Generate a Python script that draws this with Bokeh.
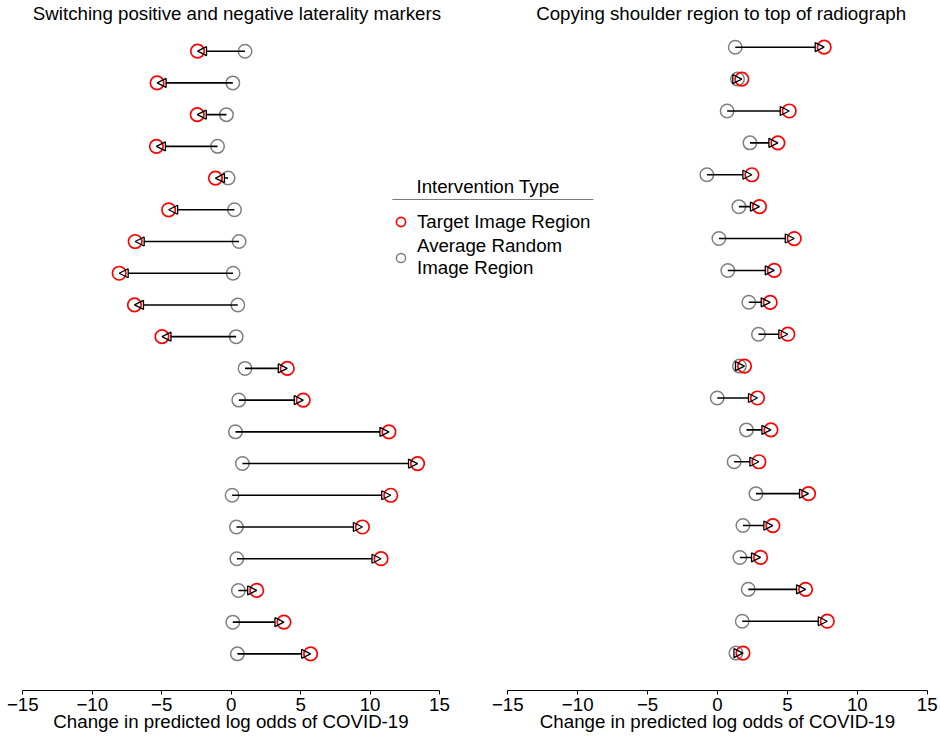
from bokeh.plotting import figure
from bokeh.models import (Range1d, LinearAxis, FixedTicker, CustomJSTickFormatter,
                          ColumnDataSource, Arrow, NormalHead, Label, Legend, LegendItem,
                          BoxAnnotation)
from bokeh.embed import file_html
from bokeh.resources import INLINE

# ---------------- data ----------------
rows = list(range(1, 21))

left_random = [1.0, 0.12, -0.34, -0.98, -0.22, 0.24, 0.57, 0.14, 0.48, 0.36,
               1.0, 0.55, 0.31, 0.81, 0.07, 0.38, 0.41, 0.52, 0.12, 0.45]
left_target = [-2.42, -5.33, -2.44, -5.38, -1.13, -4.5, -6.91, -8.06, -6.96, -4.98,
               4.04, 5.19, 11.36, 13.42, 11.49, 9.45, 10.79, 1.84, 3.8, 5.72]

right_random = [1.27, 1.43, 0.69, 2.32, -0.76, 1.53, 0.1, 0.74, 2.24, 2.93,
                1.57, -0.02, 2.07, 1.19, 2.75, 1.82, 1.6, 2.2, 1.77, 1.32]
right_target = [7.63, 1.74, 5.13, 4.32, 2.46, 3.0, 5.49, 4.06, 3.77, 5.03,
                1.93, 2.86, 3.82, 2.96, 6.51, 3.96, 3.08, 6.3, 7.85, 1.82]

titles = ["Switching positive and negative laterality markers",
          "Copying shoulder region to top of radiograph"]
x_label = "Change in predicted log odds of COVID-19"
tick_values = [-15, -10, -5, 0, 5, 10, 15]
legend_title = "Intervention Type"
legend_labels = ["Target Image Region", "Average Random\nImage Region"]

# ---------------- style ----------------
FONT = "Liberation Sans"
FS = "18.7px"
RED = "#ff0000"
GREY = "#808080"
AXIS_Y = 21.155   # row coordinate where the x axes sit

p = figure(width=940, height=742, output_backend="svg", toolbar_location=None,
           x_range=Range1d(-16.605, 51.07), y_range=Range1d(22.794, -0.598),
           x_axis_location=None, y_axis_location=None,
           min_border_left=0, min_border_right=0, min_border_top=0, min_border_bottom=0)
p.extra_x_ranges = {"right": Range1d(-51.288, 15.951)}
p.extra_y_ranges = {"right": Range1d(22.803, -0.4644)}
p.outline_line_color = None
p.grid.visible = False
p.xgrid.visible = False
p.ygrid.visible = False
p.background_fill_color = "white"
p.border_fill_color = "white"


def make_axis(range_name):
    ax = LinearAxis(x_range_name=range_name, fixed_location=AXIS_Y,
                    bounds=(-15, 15),
                    ticker=FixedTicker(ticks=tick_values, minor_ticks=[]),
                    formatter=CustomJSTickFormatter(
                        code="return tick < 0 ? '\\u2212' + (-tick) : String(tick)"),
                    axis_label=x_label)
    ax.axis_line_color = "black"
    ax.axis_line_width = 1
    ax.major_tick_line_color = "black"
    ax.major_tick_out = 4
    ax.major_tick_in = 0
    ax.minor_tick_out = 0
    ax.minor_tick_in = 0
    ax.major_label_standoff = 3
    ax.major_label_text_font = FONT
    ax.major_label_text_font_size = FS
    ax.major_label_text_color = "black"
    ax.axis_label_text_font = FONT
    ax.axis_label_text_font_size = FS
    ax.axis_label_text_font_style = "normal"
    ax.axis_label_text_color = "black"
    ax.axis_label_standoff = -3
    return ax


p.add_layout(make_axis("default"), "below")
p.add_layout(make_axis("right"), "below")

legend_renderers = None
for side, rnd, tgt in [("default", left_random, left_target),
                       ("right", right_random, right_target)]:
    src = ColumnDataSource(dict(row=rows, random=rnd, target=tgt))
    rg = p.scatter("random", "row", source=src, size=13.5, fill_color=None,
                   line_color=GREY, line_width=1.5,
                   x_range_name=side, y_range_name=side)
    rr = p.scatter("target", "row", source=src, size=13.5, fill_color=None,
                   line_color=RED, line_width=1.7,
                   x_range_name=side, y_range_name=side)
    p.add_layout(Arrow(end=NormalHead(size=9, fill_alpha=0, line_color="black",
                                      line_width=1.3),
                       x_start="random", y_start="row", x_end="target", y_end="row",
                       source=src, line_color="black", line_width=1.6,
                       x_range_name=side, y_range_name=side))
    if legend_renderers is None:
        legend_renderers = (rr, rg)

# panel titles
p.add_layout(Label(x=0.42, y=-0.18, text=titles[0], text_align="center",
                   text_baseline="alphabetic", text_font=FONT, text_font_size=FS,
                   text_color="black"))
p.add_layout(Label(x=0.26, y=-0.18, x_range_name="right", text=titles[1],
                   text_align="center", text_baseline="alphabetic", text_font=FONT,
                   text_font_size=FS, text_color="black"))

# legend
p.add_layout(Label(x=13.34, y=5.265, text=legend_title, text_align="left",
                   text_baseline="alphabetic", text_font=FONT, text_font_size=FS,
                   text_color="black"))
p.add_layout(BoxAnnotation(left=11.61, right=26.08, top=5.676, bottom=5.676,
                           fill_alpha=0, line_color="black", line_width=1))
legend = Legend(items=[LegendItem(label=legend_labels[0], renderers=[legend_renderers[0]]),
                       LegendItem(label=legend_labels[1], renderers=[legend_renderers[1]])],
                location=(389, 463), orientation="vertical", padding=0, margin=0,
                spacing=2, glyph_width=23, glyph_height=23, label_standoff=5,
                label_text_font=FONT, label_text_font_size=FS, label_text_color="black",
                border_line_color=None, background_fill_alpha=0)
p.add_layout(legend)

open("out.html", "w").write(file_html(p, INLINE))
